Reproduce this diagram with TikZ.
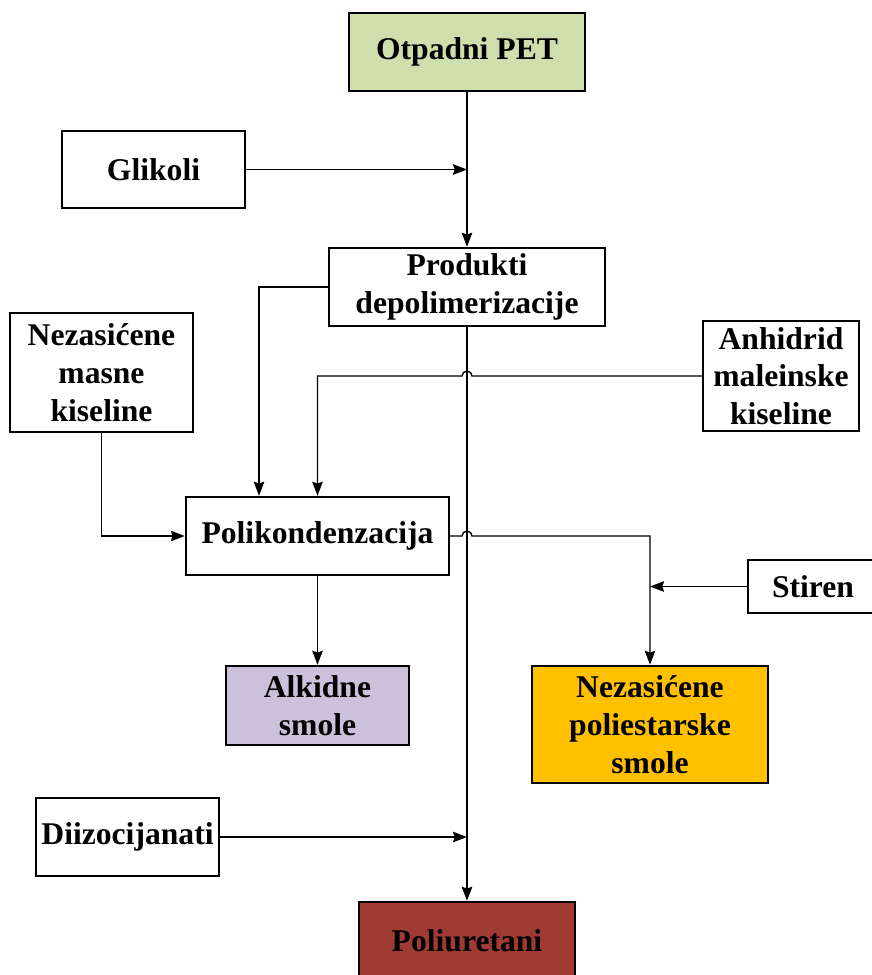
\documentclass[tikz,border=0pt]{standalone}
\usepackage{fontspec}
\setmainfont{Liberation Serif}
\usepackage{tikz}
\usetikzlibrary{arrows.meta}
\usepackage{xcolor}
\definecolor{petgreen}{RGB}{206,222,172}
\definecolor{alkidlila}{RGB}{204,193,218}
\definecolor{upsgold}{RGB}{255,192,0}
\definecolor{purred}{RGB}{160,59,52}

\begin{document}
\begin{tikzpicture}[x=0.02cm, y=-0.02cm, >={Stealth[length=8pt,width=6pt,inset=1pt]},
  box/.style={draw, line width=1.4pt, align=center, inner sep=2pt,
    font=\fontsize{18}{21.5}\selectfont\bfseries},
  conn/.style={line width=0.8pt}]
  \useasboundingbox (0,0) rectangle (872,975);
  \node[box, fill=petgreen, minimum width=4.72cm, minimum height=1.56cm] (pet) at (467,52) {Otpadni PET};
  \node[box, minimum width=3.66cm, minimum height=1.54cm] (glikoli) at (153.5,169.5) {Glikoli};
  \node[box, minimum width=5.52cm, minimum height=1.56cm] (produkti) at (467,287) {Produkti\\depolimerizacije};
  \node[box, minimum width=3.66cm, minimum height=2.38cm] (masne) at (101.5,372.5) {Nezasićene\\masne\\kiseline};
  \node[box, minimum width=3.12cm, minimum height=2.2cm] (anhidrid) at (781,376) {Anhidrid\\maleinske\\kiseline};
  \node[box, minimum width=5.26cm, minimum height=1.56cm] (polik) at (317.5,536) {Polikondenzacija};
  \node[box, minimum width=2.6cm, minimum height=1.06cm] (stiren) at (813,586.5) {Stiren};
  \node[box, fill=alkidlila, minimum width=3.66cm, minimum height=1.58cm] (alkidne) at (317.5,705.5) {Alkidne\\smole};
  \node[box, fill=upsgold, minimum width=4.72cm, minimum height=2.34cm] (ups) at (650,724.5) {Nezasićene\\poliestarske\\smole};
  \node[box, minimum width=3.66cm, minimum height=1.56cm] (diizo) at (127.5,837) {Diizocijanati};
  \node[box, fill=purred, minimum width=4.32cm, minimum height=1.56cm] (poliur) at (467,941) {Poliuretani};
  % points where arrows meet a line, and line hops
  \coordinate (hopA) at (produkti.south |- anhidrid.west);
  \coordinate (hopB) at (produkti.south |- polik.east);
  \coordinate (sideP) at ([xshift=-1.17cm]polik.north);

  \draw[conn,->] (pet) -- (produkti);
  \draw[conn,->] (glikoli) -- (glikoli -| pet);
  \draw[conn,->] (produkti.south) -- (poliur.north);
  \draw[conn,->] (produkti.west) -| (sideP);
  \draw[conn,->] (anhidrid.west) -- ([xshift=0.1cm]hopA) arc[start angle=0, end angle=-180, radius=5] -| (polik.north);
  \draw[conn,->] (masne.south) |- (polik.west);
  \draw[conn,->] (polik.east) -- ([xshift=-0.1cm]hopB) arc[start angle=180, end angle=360, radius=5] -| (ups.north);
  \draw[conn,->] (stiren.west) -- (stiren.west -| ups.north);
  \draw[conn,->] (polik.south) -- (alkidne.north);
  \draw[conn,->] (diizo.east) -- (diizo.east -| poliur.north);
\end{tikzpicture}
\end{document}
